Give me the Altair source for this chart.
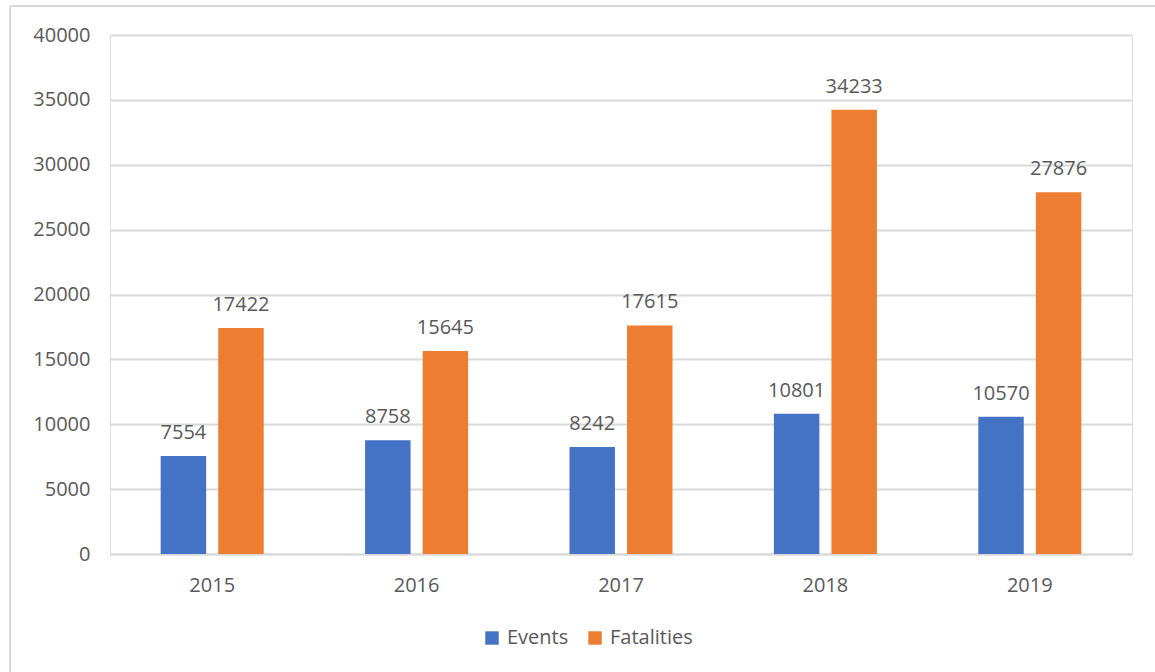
import altair as alt
import pandas as pd

years = ["2015", "2016", "2017", "2018", "2019"]
events = [7554, 8758, 8242, 10801, 10570]
fatalities = [17422, 15645, 17615, 34233, 27876]
series = ["Events", "Fatalities"]
colors = ["#4472C4", "#ED7D31"]

rows = []
for i, y in enumerate(years):
    rows.append({"year": y, "series": series[0], "value": events[i]})
    rows.append({"year": y, "series": series[1], "value": fatalities[i]})
df = pd.DataFrame(rows)

FONT = "Open Sans"
GRAY = "#595959"
GRID = "#D9D9D9"

x = alt.X("year:N", title=None,
          scale=alt.Scale(paddingInner=0.496, paddingOuter=0.248),
          axis=alt.Axis(labelAngle=0, ticks=False, domain=True, domainColor=GRID,
                        domainWidth=2, labelPadding=21, labelColor=GRAY,
                        labelFontSize=20, labelFont=FONT, grid=False))
xo = alt.XOffset("series:N", scale=alt.Scale(paddingInner=0.21, paddingOuter=0))
y = alt.Y("value:Q", title=None,
          scale=alt.Scale(domain=[0, 40000], nice=False),
          axis=alt.Axis(values=list(range(0, 40001, 5000)), ticks=False, domain=False,
                        format="d",
                        gridColor=GRID, gridWidth=2, labelPadding=20,
                        labelColor=GRAY, labelFontSize=20, labelFont=FONT))
color = alt.Color("series:N", title=None,
                  scale=alt.Scale(domain=series, range=colors),
                  legend=alt.Legend(orient="none", legendX=372, legendY=593,
                                    direction="horizontal", symbolType="square",
                                    symbolSize=180, symbolStrokeWidth=0,
                                    labelFont=FONT, labelFontSize=20,
                                    labelColor=GRAY, labelOffset=5,
                                    columnPadding=16))

bars = alt.Chart(df).mark_bar().encode(x=x, xOffset=xo, y=y, color=color)
labels = alt.Chart(df).mark_text(dy=-13, font=FONT, fontSize=20, color=GRAY,
                                 baseline="bottom").encode(
    x=alt.X("year:N"), xOffset=alt.XOffset("series:N"), y=alt.Y("value:Q"),
    text=alt.Text("value:Q", format="d"))

border = alt.Chart(pd.DataFrame({"k": [0]})).mark_rule(color=GRID, strokeWidth=2).encode(
    x=alt.value(-100), y=alt.value(-29), y2=alt.value(700))
border_top = alt.Chart(pd.DataFrame({"k": [0]})).mark_rule(color=GRID, strokeWidth=2).encode(
    x=alt.value(-100), x2=alt.value(1100), y=alt.value(-29))

chart = alt.layer(border, border_top, bars, labels).properties(
    width=1022, height=519,
    autosize=alt.AutoSizeParams(type="none"),
    padding={"left": 110, "top": 35, "right": 23, "bottom": 118},
).configure_view(stroke=None).configure(background="white")

chart.save("out.html", embed_options={"renderer": "svg", "actions": False})
